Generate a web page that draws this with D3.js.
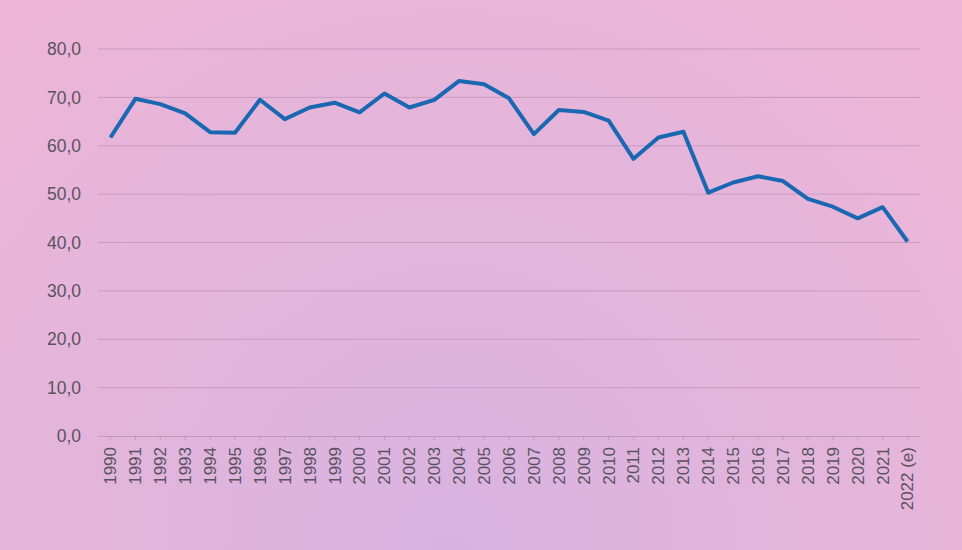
<!DOCTYPE html>
<html>
<head>
<meta charset="utf-8">
<script src="https://cdn.jsdelivr.net/npm/d3@7"></script>
<style>
  html, body { margin: 0; padding: 0; }
  body { width: 962px; height: 550px; overflow: hidden; }
  text { font-family: "Liberation Sans", Arial, sans-serif; }
</style>
</head>
<body>
<svg id="chart" width="962" height="550"></svg>
<script>
var years = ["1990","1991","1992","1993","1994","1995","1996","1997","1998","1999",
    "2000","2001","2002","2003","2004","2005","2006","2007","2008","2009",
    "2010","2011","2012","2013","2014","2015","2016","2017","2018","2019",
    "2020","2021","2022 (e)"];
var values = [61.7, 69.7, 68.6, 66.7, 62.8, 62.7, 69.5, 65.5, 67.9, 68.9,
    66.9, 70.8, 67.9, 69.5, 73.4, 72.7, 69.8, 62.4, 67.4, 67.0,
    65.2, 57.3, 61.7, 62.9, 50.3, 52.4, 53.7, 52.7, 49.0, 47.4,
    45.0, 47.3, 40.2];
var yTicks = [0, 10, 20, 30, 40, 50, 60, 70, 80];

var svg = d3.select('#chart');
var width = 962, height = 550;
var margin = {top: 49, right: 42, bottom: 114, left: 98};

// background gradient: lavender at the bottom centre, pink towards the edges
var defs = svg.append('defs');
var grad = defs.append('radialGradient')
    .attr('id', 'bg')
    .attr('cx', '0.47').attr('cy', '1.0').attr('r', '0.8')
    .attr('gradientTransform', 'translate(0.47,1) scale(1,1.75) translate(-0.47,-1)');
grad.append('stop').attr('offset', '0%').attr('stop-color', '#d8b3e0');
grad.append('stop').attr('offset', '55%').attr('stop-color', '#e4b5db');
grad.append('stop').attr('offset', '100%').attr('stop-color', '#f1b5d6');
svg.append('rect')
    .attr('width', width).attr('height', height)
    .attr('fill', 'url(#bg)');

var xScale = d3.scaleBand()
    .domain(years)
    .range([margin.left, width - margin.right]);
var yScale = d3.scaleLinear()
    .domain([0, 80])
    .range([height - margin.bottom, margin.top]);

// gridlines
svg.append('g').selectAll('line')
    .data(yTicks.filter(function(d) { return d > 0; }))
    .enter().append('line')
        .attr('x1', margin.left)
        .attr('x2', width - margin.right)
        .attr('y1', function(d) { return yScale(d); })
        .attr('y2', function(d) { return yScale(d); })
        .attr('stroke', '#c89cbf')
        .attr('stroke-width', 1);

// y labels
svg.append('g').selectAll('text')
    .data(yTicks)
    .enter().append('text')
        .attr('x', 81)
        .attr('y', function(d) { return yScale(d); })
        .attr('dy', '0.35em')
        .attr('text-anchor', 'end')
        .attr('font-size', 17.5)
        .attr('fill', '#5a5260')
        .text(function(d) { return d.toFixed(1).replace('.', ','); });

// x axis
var xAxis = d3.axisBottom(xScale).tickSize(4).tickSizeOuter(0);
var gx = svg.append('g')
    .attr('transform', 'translate(0,' + yScale(0) + ')')
    .call(xAxis);
gx.select('.domain').attr('stroke', '#bf9ab8');
gx.selectAll('.tick line').attr('stroke', '#bf9ab8');
gx.selectAll('.tick text')
    .attr('font-size', 17)
    .attr('font-family', '"Liberation Sans", Arial, sans-serif')
    .attr('fill', '#5a5260')
    .attr('text-anchor', 'end')
    .attr('transform', 'rotate(-90)')
    .attr('x', -11)
    .attr('y', 0)
    .attr('dy', '0.35em');

// line
var line = d3.line()
    .x(function(d, i) { return xScale(years[i]) + xScale.bandwidth() / 2; })
    .y(function(d) { return yScale(d); });
svg.append('path')
    .datum(values)
    .attr('d', line)
    .attr('fill', 'none')
    .attr('stroke', '#1a68b2')
    .attr('stroke-width', 4)
    .attr('stroke-linejoin', 'round');
</script>
</body>
</html>
